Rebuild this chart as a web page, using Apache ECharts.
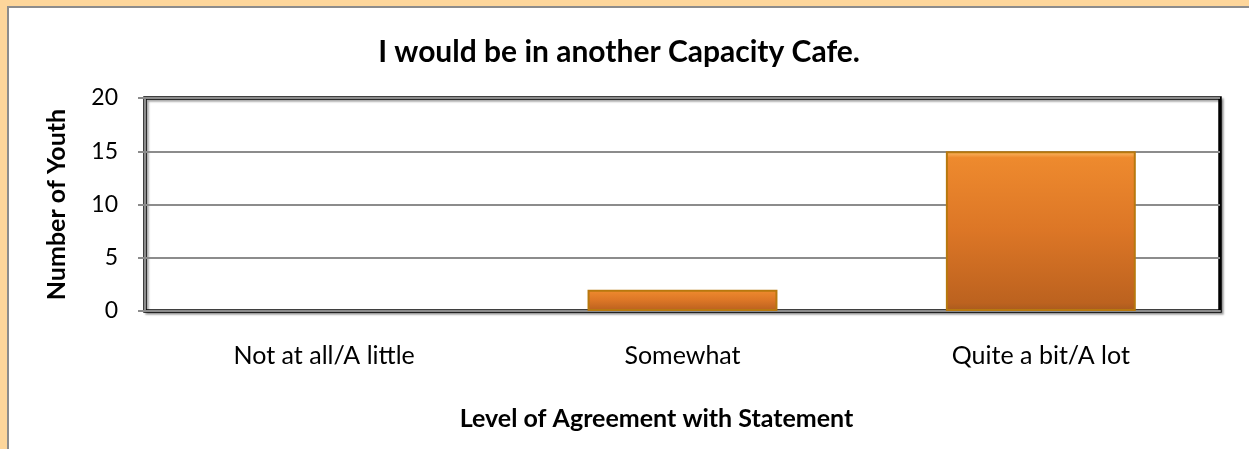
<!DOCTYPE html>
<html><head><meta charset="utf-8">
<script src="https://cdn.jsdelivr.net/npm/echarts@6/dist/echarts.min.js"></script>
<style>
html,body{margin:0;padding:0;background:#FDD69B;}
#frame{position:absolute;left:7px;top:6px;width:1242px;height:443px;background:#fff;border-top:2px solid #8C8C8C;border-left:2px solid #8C8C8C;box-sizing:border-box;}
#chart{position:absolute;left:0;top:0;width:1249px;height:449px;}
</style></head>
<body>
<div id="frame"></div>
<div id="chart"></div>
<script>
const categories = ['Not at all/A little', 'Somewhat', 'Quite a bit/A lot'];
const values = [0, 2, 15];
const yTicks = { min: 0, max: 20, interval: 5 };
const titleText = 'I would be in another Capacity Cafe.';
const xName = 'Level of Agreement with Statement';
const yName = 'Number of Youth';

const font = 'Lato, "Open Sans", sans-serif';
const chart = echarts.init(document.getElementById('chart'), null, {renderer: 'canvas'});
chart.setOption({
  backgroundColor: 'transparent',
  animation: false,
  title: {
    text: titleText, left: 614, top: 32, textAlign: 'center',
    textStyle: {fontFamily: font, fontWeight: 'bold', fontSize: 30, color: '#000'}
  },
  grid: {
    left: 145, right: 29, top: 98, bottom: 138,
    show: true, borderColor: '#000', borderWidth: 3.5, backgroundColor: '#fff',
    shadowColor: 'rgba(0,0,0,0.35)', shadowOffsetX: 2, shadowOffsetY: 2, shadowBlur: 2
  },
  xAxis: {
    type: 'category', data: categories,
    axisLine: {show: true, lineStyle: {color: '#8C8C8C', width: 2}},
    axisTick: {show: false},
    axisLabel: {fontFamily: font, fontSize: 25, color: '#000', margin: 32},
    name: xName, nameLocation: 'middle', nameGap: 95,
    nameTextStyle: {fontFamily: font, fontWeight: 'bold', fontSize: 25, color: '#000', padding: [0, 52, 0, 0]}
  },
  yAxis: {
    type: 'value', min: yTicks.min, max: yTicks.max, interval: yTicks.interval,
    axisLine: {show: true, lineStyle: {color: '#8C8C8C', width: 2}},
    axisTick: {show: true, length: 7, lineStyle: {color: '#8C8C8C', width: 2}},
    splitLine: {lineStyle: {color: '#8C8C8C', width: 2}},
    axisLabel: {fontFamily: font, fontSize: 23, color: '#000', margin: 27},
    name: yName, nameLocation: 'middle', nameGap: 76, nameRotate: 90,
    nameTextStyle: {fontFamily: font, fontWeight: 'bold', fontSize: 25, color: '#000'}
  },
  series: [{
    type: 'bar', barWidth: '53%',
    data: values.map(v => v === 0 ? {value: v, itemStyle: {borderWidth: 0, opacity: 0}} : v),
    itemStyle: {
      color: {
        type: 'linear', x: 0, y: 0, x2: 0, y2: 1,
        colorStops: [
          {offset: 0, color: '#FDBE6A'},
          {offset: 0.04, color: '#EE8A2E'},
          {offset: 0.5, color: '#DC7626'},
          {offset: 0.95, color: '#BC621F'},
          {offset: 1, color: '#A85A1E'}
        ]
      },
      borderColor: '#B8780E', borderWidth: 2
    }
  }]
});
</script>
</body></html>
